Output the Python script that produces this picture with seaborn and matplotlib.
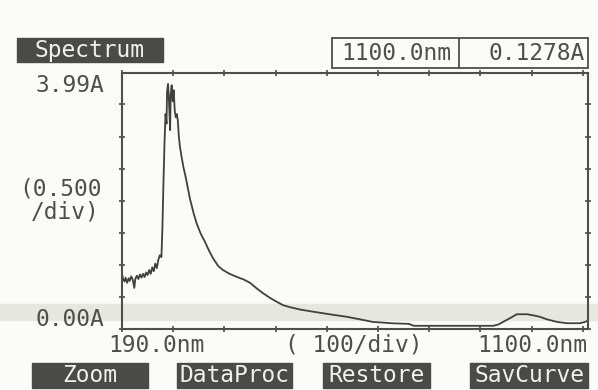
import pandas as pd
import seaborn as sns
import matplotlib.pyplot as plt
from matplotlib.patches import Rectangle

# spectrum (nm, absorbance)
wavelength = [190, 192, 195, 197, 200, 203, 205, 208, 211, 214, 216, 219, 222, 225,
              228, 231, 234, 237, 240, 243, 246, 249, 252, 255, 258, 261, 264, 267,
              269, 271, 273, 275, 277, 278, 280, 282, 284, 285, 287, 289, 291, 293,
              295, 297, 299, 301, 303, 306, 310, 314, 318, 323, 330, 336, 344, 352,
              360, 368, 378, 387, 400, 415, 428, 440, 452, 465, 480, 493, 505, 518,
              540, 563, 595, 629, 655, 680, 700, 715, 750, 760, 800, 850, 915, 925,
              934, 948, 961, 981, 995, 1006, 1020, 1040, 1059, 1084, 1094, 1100]
absorbance = [0.86, 0.78, 0.74, 0.80, 0.72, 0.79, 0.75, 0.82, 0.77, 0.64, 0.78, 0.83,
              0.78, 0.85, 0.80, 0.86, 0.81, 0.88, 0.84, 0.92, 0.86, 0.96, 0.90, 1.02,
              0.95, 1.08, 1.15, 1.12, 1.60, 2.30, 2.90, 3.35, 3.20, 3.70, 3.82, 3.50,
              3.10, 3.65, 3.80, 3.55, 3.72, 3.40, 3.30, 3.35, 3.25, 3.00, 2.85, 2.70,
              2.52, 2.38, 2.22, 2.02, 1.80, 1.64, 1.48, 1.36, 1.22, 1.10, 0.98, 0.92,
              0.86, 0.81, 0.77, 0.72, 0.64, 0.56, 0.48, 0.42, 0.37, 0.34, 0.30, 0.27,
              0.23, 0.19, 0.15, 0.11, 0.10, 0.09, 0.08, 0.05, 0.05, 0.05, 0.05, 0.07,
              0.11, 0.17, 0.23, 0.23, 0.21, 0.19, 0.15, 0.11, 0.09, 0.09, 0.11, 0.13]

x_ticks = list(range(190, 1100, 100))
y_ticks = [0, 0.5, 1.0, 1.5, 2.0, 2.5, 3.0, 3.5]
buttons = ["Zoom", "DataProc", "Restore", "SavCurve"]

sns.set_style("white")
plt.rcParams['font.family'] = ['DejaVu Sans Mono']

W, H = 598, 390
ink = "#4e4f4b"
box = "#4a4b47"


def fp(x, y):
    # pixel position -> figure fraction
    return x / W, 1 - y / H


fig = plt.figure(figsize=(W / 100, H / 100), dpi=100)
fig.patch.set_facecolor("#fbfbf9")

# pale smudge band from the scan, kept behind everything
band = Rectangle(fp(0, 320), 1, 16 / H, transform=fig.transFigure,
                 color="#e6e8df", zorder=-5)
fig.patches.append(band)

ax = fig.add_axes([122 / W, 61 / H, 466 / W, 256 / H])
ax.set_facecolor("none")

df = pd.DataFrame({"nm": wavelength, "A": absorbance})
sns.lineplot(data=df, x="nm", y="A", ax=ax, color="#3f413c", linewidth=1.3,
             estimator=None, sort=False)

ax.set_xlim(190, 1100)
ax.set_ylim(0, 3.99)
ax.set_xticks(x_ticks)
ax.set_yticks(y_ticks)
ax.tick_params(direction="inout", length=5, width=1.2, color=ink,
               top=True, right=True, bottom=True, left=True,
               labelbottom=False, labelleft=False)
ax.set_xlabel("")
ax.set_ylabel("")
for s in ax.spines.values():
    s.set_color(ink)
    s.set_linewidth(1.5)

fs = 16.5

# title tab
fig.patches.append(Rectangle(fp(17, 62), 146 / W, 24 / H, transform=fig.transFigure,
                             color=box, zorder=1))
fig.text(*fp(90, 51), "Spectrum", ha="center", va="center", fontsize=fs, color="#f0f0ec")

# readout box at top right
fig.patches.append(Rectangle(fp(332, 68), 256 / W, 30 / H, transform=fig.transFigure,
                             fill=False, edgecolor=ink, linewidth=1.3))
fig.lines.append(plt.Line2D([459 / W, 459 / W], [1 - 68 / H, 1 - 38 / H],
                            transform=fig.transFigure, color=ink, linewidth=1.3))
fig.text(*fp(396, 54), "1100.0nm", ha="center", va="center", fontsize=fs, color=ink)
fig.text(*fp(585, 54), "0.1278A", ha="right", va="center", fontsize=fs, color=ink)

# y axis texts
fig.text(*fp(104, 85), "3.99A", ha="right", va="center", fontsize=fs, color=ink)
fig.text(*fp(102, 189), "(0.500", ha="right", va="center", fontsize=fs, color=ink)
fig.text(*fp(100, 212), "/div)", ha="right", va="center", fontsize=fs, color=ink)
fig.text(*fp(104, 320), "0.00A", ha="right", va="center", fontsize=fs, color=ink)

# x axis texts
fig.text(*fp(108, 345), "190.0nm", ha="left", va="center", fontsize=fs, color=ink)
fig.text(*fp(354, 345), "( 100/div)", ha="center", va="center", fontsize=fs, color=ink)
fig.text(*fp(587, 345), "1100.0nm", ha="right", va="center", fontsize=fs, color=ink)

# soft keys along the bottom
spans = [(32, 148), (177, 292), (323, 430), (470, 588)]
for label, (x0, x1) in zip(buttons, spans):
    fig.patches.append(Rectangle(fp(x0, 388), (x1 - x0) / W, 25 / H,
                                 transform=fig.transFigure, color=box, zorder=1))
    fig.text(*fp((x0 + x1) / 2, 376), label, ha="center", va="center",
             fontsize=fs, color="#f0f0ec")

fig.savefig("out.png", dpi=100, facecolor=fig.get_facecolor())
